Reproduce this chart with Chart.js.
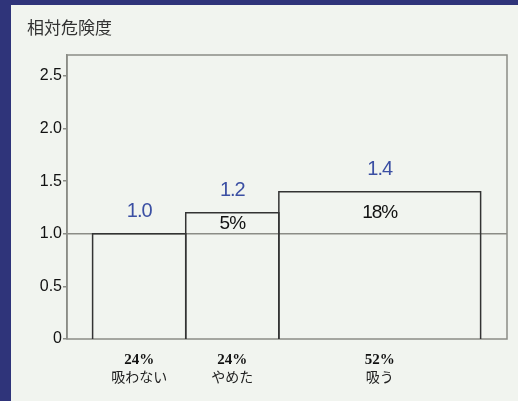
<!DOCTYPE html>
<html>
<head>
<meta charset="utf-8">
<script src="https://cdn.jsdelivr.net/npm/chart.js@4.4.1/dist/chart.umd.min.js"></script>
<style>
  html, body { margin: 0; padding: 0; }
  body { width: 518px; height: 401px; background: #2f347a; position: relative; overflow: hidden; }
  #panel { position: absolute; left: 11px; top: 5px; width: 507px; height: 396px; background: #f1f4ef; }
  canvas { display: block; }
</style>
</head>
<body>
<div id="panel"><canvas id="grafica" width="507" height="396"></canvas></div>
<script>
// 喫煙状況ごとの割合と相対危険度
const categorias = ["吸わない", "やめた", "吸う"];
const porcentajes = [24, 24, 52];
const riesgos = [1.0, 1.2, 1.4];
const excesos = [null, 5, 18];
const ticksY = [0, 0.5, 1.0, 1.5, 2.0, 2.5];

const colorMarco = "#8b8c86";
const colorBarra = "#333333";
const colorAzul = "#3b4fa3";

// Bordes acumulados de cada barra (ancho = porcentaje)
const bordes = [0];
porcentajes.forEach(function (p, i) {
  bordes.push(bordes[i] + p);
});

// Cada barra se traza como un rectángulo abierto por abajo
const datasets = riesgos.map(function (r, i) {
  return {
    label: categorias[i],
    data: [
      { x: bordes[i], y: 0 },
      { x: bordes[i], y: r },
      { x: bordes[i + 1], y: r },
      { x: bordes[i + 1], y: 0 },
    ],
    borderColor: colorBarra,
    borderWidth: 1.5,
    pointRadius: 0,
    tension: 0,
    fill: false,
  };
});

// Marco del área de trazado y textos
const pluginTextos = {
  id: "textos",
  beforeDatasetsDraw(chart) {
    const ctx = chart.ctx;
    const a = chart.chartArea;
    ctx.save();
    ctx.strokeStyle = colorMarco;
    ctx.lineWidth = 1.5;
    ctx.strokeRect(a.left, a.top, a.right - a.left, a.bottom - a.top);
    ctx.restore();
  },
  afterDatasetsDraw(chart) {
    const ctx = chart.ctx;
    const sx = chart.scales.x;
    const sy = chart.scales.y;
    ctx.save();
    ctx.textAlign = "center";
    ctx.textBaseline = "middle";

    // título del eje
    ctx.textAlign = "left";
    ctx.fillStyle = "#333333";
    ctx.font = '17px "Noto Sans CJK JP"';
    ctx.fillText("相対危険度", 16, 23);
    ctx.textAlign = "center";

    riesgos.forEach(function (r, i) {
      const cx = sx.getPixelForValue((bordes[i] + bordes[i + 1]) / 2);
      const yTop = sy.getPixelForValue(r);

      // valor del riesgo
      ctx.fillStyle = colorAzul;
      ctx.font = '20px "Liberation Sans"';
      ctx.letterSpacing = "-1px";
      ctx.fillText(r.toFixed(1), cx, yTop - 22);

      // porcentaje atribuible sobre 1.0
      if (excesos[i] !== null) {
        const yUno = sy.getPixelForValue(1);
        ctx.fillStyle = "#111111";
        ctx.font = '19px "Liberation Sans"';
        ctx.fillText(excesos[i] + "%", cx, (yTop + yUno) / 2);
      }
      ctx.letterSpacing = "0px";

      // etiquetas de categoría
      const yBase = sy.getPixelForValue(0);
      ctx.fillStyle = "#111111";
      ctx.font = 'bold 15px "Liberation Serif"';
      ctx.fillText(porcentajes[i] + "%", cx, yBase + 21);
      ctx.fillStyle = "#222222";
      ctx.font = '14px "Noto Sans CJK JP"';
      ctx.fillText(categorias[i], cx, yBase + 38);
    });
    ctx.restore();
  },
};

new Chart(document.getElementById("grafica"), {
  type: "line",
  data: { datasets: datasets },
  options: {
    responsive: false,
    animation: false,
    devicePixelRatio: 1,
    layout: { padding: { top: 50, right: 11, bottom: 62, left: 0 } },
    plugins: {
      legend: { display: false },
      tooltip: { enabled: false },
    },
    scales: {
      x: {
        type: "linear",
        min: -6.6,
        max: 106.8,
        display: false,
      },
      y: {
        type: "linear",
        min: 0,
        max: 2.7,
        afterFit: function (scale) {
          scale.width = 56;
        },
        afterBuildTicks: function (scale) {
          scale.ticks = ticksY.map(function (v) {
            return { value: v };
          });
        },
        ticks: {
          padding: 1,
          color: "#111111",
          font: { family: "Liberation Sans", size: 16 },
          callback: function (v) {
            return v === 0 ? "0" : v.toFixed(1);
          },
        },
        grid: {
          drawTicks: true,
          tickLength: 4,
          tickColor: colorMarco,
          lineWidth: 1.5,
          color: function (c) {
            return c.tick && c.tick.value === 1 ? colorMarco : "rgba(0,0,0,0)";
          },
        },
        border: { display: true, color: colorMarco, width: 1.5 },
      },
    },
  },
  plugins: [pluginTextos],
});
</script>
</body>
</html>
